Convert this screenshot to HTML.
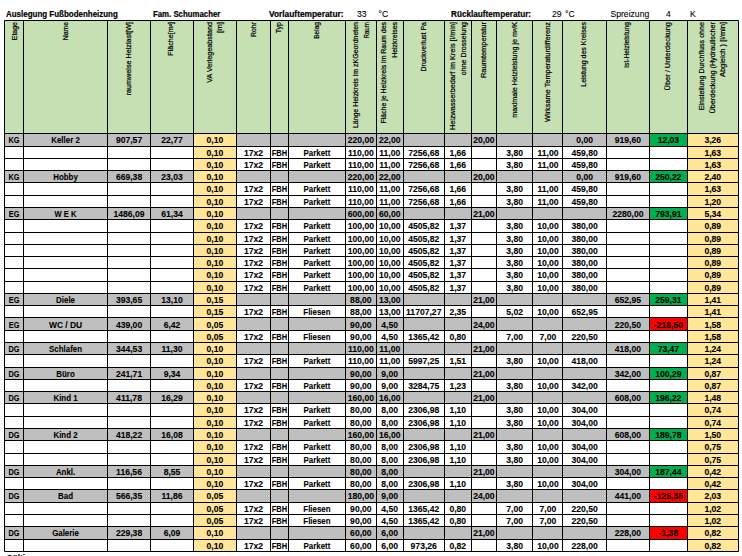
<!DOCTYPE html>
<html><head><meta charset="utf-8"><style>
html,body{margin:0;padding:0;background:#fff;width:742px;height:556px;overflow:hidden}
svg{display:block}
rect{shape-rendering:crispEdges}
.t{font-family:"Liberation Sans",sans-serif;font-weight:bold;font-size:8.6px;fill:#000;stroke:#000;stroke-width:0.1px;letter-spacing:0px}
.h{font-family:"Liberation Sans",sans-serif;font-size:6.5px;fill:#000;stroke:#000;stroke-width:0.2px}
.tb{font-family:"Liberation Sans",sans-serif;font-weight:bold;font-size:8.2px;fill:#000;stroke:#000;stroke-width:0.2px}
.ti{font-family:"Liberation Sans",sans-serif;font-size:8.6px;fill:#000;stroke:#000;stroke-width:0.1px}
</style></head><body>
<svg width="742" height="556" viewBox="0 0 742 556">
<rect x="0" y="0" width="742" height="556" fill="#fff"/>
<rect x="4.56" y="20.10" width="733.71" height="113.65" fill="#C6E0B4"/>
<rect x="4.56" y="133.75" width="733.71" height="12.28" fill="#BFBFBF"/>
<rect x="193.49" y="133.75" width="42.96" height="12.28" fill="#FFE699"/>
<rect x="687.31" y="133.75" width="50.96" height="12.28" fill="#FFE699"/>
<rect x="649.50" y="133.75" width="37.81" height="12.28" fill="#00B050"/>
<rect x="193.49" y="146.03" width="42.96" height="12.28" fill="#FFE699"/>
<rect x="687.31" y="146.03" width="50.96" height="12.28" fill="#FFE699"/>
<rect x="193.49" y="158.32" width="42.96" height="12.28" fill="#FFE699"/>
<rect x="687.31" y="158.32" width="50.96" height="12.28" fill="#FFE699"/>
<rect x="4.56" y="170.60" width="733.71" height="12.28" fill="#BFBFBF"/>
<rect x="193.49" y="170.60" width="42.96" height="12.28" fill="#FFE699"/>
<rect x="687.31" y="170.60" width="50.96" height="12.28" fill="#FFE699"/>
<rect x="649.50" y="170.60" width="37.81" height="12.28" fill="#00B050"/>
<rect x="193.49" y="182.88" width="42.96" height="12.28" fill="#FFE699"/>
<rect x="687.31" y="182.88" width="50.96" height="12.28" fill="#FFE699"/>
<rect x="193.49" y="195.16" width="42.96" height="12.28" fill="#FFE699"/>
<rect x="687.31" y="195.16" width="50.96" height="12.28" fill="#FFE699"/>
<rect x="4.56" y="207.45" width="733.71" height="12.28" fill="#BFBFBF"/>
<rect x="193.49" y="207.45" width="42.96" height="12.28" fill="#FFE699"/>
<rect x="687.31" y="207.45" width="50.96" height="12.28" fill="#FFE699"/>
<rect x="649.50" y="207.45" width="37.81" height="12.28" fill="#00B050"/>
<rect x="193.49" y="219.73" width="42.96" height="12.28" fill="#FFE699"/>
<rect x="687.31" y="219.73" width="50.96" height="12.28" fill="#FFE699"/>
<rect x="193.49" y="232.01" width="42.96" height="12.28" fill="#FFE699"/>
<rect x="687.31" y="232.01" width="50.96" height="12.28" fill="#FFE699"/>
<rect x="193.49" y="244.30" width="42.96" height="12.28" fill="#FFE699"/>
<rect x="687.31" y="244.30" width="50.96" height="12.28" fill="#FFE699"/>
<rect x="193.49" y="256.58" width="42.96" height="12.28" fill="#FFE699"/>
<rect x="687.31" y="256.58" width="50.96" height="12.28" fill="#FFE699"/>
<rect x="193.49" y="268.86" width="42.96" height="12.28" fill="#FFE699"/>
<rect x="687.31" y="268.86" width="50.96" height="12.28" fill="#FFE699"/>
<rect x="193.49" y="281.15" width="42.96" height="12.28" fill="#FFE699"/>
<rect x="687.31" y="281.15" width="50.96" height="12.28" fill="#FFE699"/>
<rect x="4.56" y="293.43" width="733.71" height="12.28" fill="#BFBFBF"/>
<rect x="193.49" y="293.43" width="42.96" height="12.28" fill="#FFE699"/>
<rect x="687.31" y="293.43" width="50.96" height="12.28" fill="#FFE699"/>
<rect x="649.50" y="293.43" width="37.81" height="12.28" fill="#00B050"/>
<rect x="193.49" y="305.71" width="42.96" height="12.28" fill="#FFE699"/>
<rect x="687.31" y="305.71" width="50.96" height="12.28" fill="#FFE699"/>
<rect x="4.56" y="318.00" width="733.71" height="12.28" fill="#BFBFBF"/>
<rect x="193.49" y="318.00" width="42.96" height="12.28" fill="#FFE699"/>
<rect x="687.31" y="318.00" width="50.96" height="12.28" fill="#FFE699"/>
<rect x="649.50" y="318.00" width="37.81" height="12.28" fill="#FF0000"/>
<rect x="193.49" y="330.28" width="42.96" height="12.28" fill="#FFE699"/>
<rect x="687.31" y="330.28" width="50.96" height="12.28" fill="#FFE699"/>
<rect x="4.56" y="342.56" width="733.71" height="12.28" fill="#BFBFBF"/>
<rect x="193.49" y="342.56" width="42.96" height="12.28" fill="#FFE699"/>
<rect x="687.31" y="342.56" width="50.96" height="12.28" fill="#FFE699"/>
<rect x="649.50" y="342.56" width="37.81" height="12.28" fill="#00B050"/>
<rect x="193.49" y="354.84" width="42.96" height="12.28" fill="#FFE699"/>
<rect x="687.31" y="354.84" width="50.96" height="12.28" fill="#FFE699"/>
<rect x="4.56" y="367.13" width="733.71" height="12.28" fill="#BFBFBF"/>
<rect x="193.49" y="367.13" width="42.96" height="12.28" fill="#FFE699"/>
<rect x="687.31" y="367.13" width="50.96" height="12.28" fill="#FFE699"/>
<rect x="649.50" y="367.13" width="37.81" height="12.28" fill="#00B050"/>
<rect x="193.49" y="379.41" width="42.96" height="12.28" fill="#FFE699"/>
<rect x="687.31" y="379.41" width="50.96" height="12.28" fill="#FFE699"/>
<rect x="4.56" y="391.69" width="733.71" height="12.28" fill="#BFBFBF"/>
<rect x="193.49" y="391.69" width="42.96" height="12.28" fill="#FFE699"/>
<rect x="687.31" y="391.69" width="50.96" height="12.28" fill="#FFE699"/>
<rect x="649.50" y="391.69" width="37.81" height="12.28" fill="#00B050"/>
<rect x="193.49" y="403.98" width="42.96" height="12.28" fill="#FFE699"/>
<rect x="687.31" y="403.98" width="50.96" height="12.28" fill="#FFE699"/>
<rect x="193.49" y="416.26" width="42.96" height="12.28" fill="#FFE699"/>
<rect x="687.31" y="416.26" width="50.96" height="12.28" fill="#FFE699"/>
<rect x="4.56" y="428.54" width="733.71" height="12.28" fill="#BFBFBF"/>
<rect x="193.49" y="428.54" width="42.96" height="12.28" fill="#FFE699"/>
<rect x="687.31" y="428.54" width="50.96" height="12.28" fill="#FFE699"/>
<rect x="649.50" y="428.54" width="37.81" height="12.28" fill="#00B050"/>
<rect x="193.49" y="440.82" width="42.96" height="12.28" fill="#FFE699"/>
<rect x="687.31" y="440.82" width="50.96" height="12.28" fill="#FFE699"/>
<rect x="193.49" y="453.11" width="42.96" height="12.28" fill="#FFE699"/>
<rect x="687.31" y="453.11" width="50.96" height="12.28" fill="#FFE699"/>
<rect x="4.56" y="465.39" width="733.71" height="12.28" fill="#BFBFBF"/>
<rect x="193.49" y="465.39" width="42.96" height="12.28" fill="#FFE699"/>
<rect x="687.31" y="465.39" width="50.96" height="12.28" fill="#FFE699"/>
<rect x="649.50" y="465.39" width="37.81" height="12.28" fill="#00B050"/>
<rect x="193.49" y="477.67" width="42.96" height="12.28" fill="#FFE699"/>
<rect x="687.31" y="477.67" width="50.96" height="12.28" fill="#FFE699"/>
<rect x="4.56" y="489.96" width="733.71" height="12.28" fill="#BFBFBF"/>
<rect x="193.49" y="489.96" width="42.96" height="12.28" fill="#FFE699"/>
<rect x="687.31" y="489.96" width="50.96" height="12.28" fill="#FFE699"/>
<rect x="649.50" y="489.96" width="37.81" height="12.28" fill="#FF0000"/>
<rect x="193.49" y="502.24" width="42.96" height="12.28" fill="#FFE699"/>
<rect x="687.31" y="502.24" width="50.96" height="12.28" fill="#FFE699"/>
<rect x="193.49" y="514.52" width="42.96" height="12.28" fill="#FFE699"/>
<rect x="687.31" y="514.52" width="50.96" height="12.28" fill="#FFE699"/>
<rect x="4.56" y="526.81" width="733.71" height="12.28" fill="#BFBFBF"/>
<rect x="193.49" y="526.81" width="42.96" height="12.28" fill="#FFE699"/>
<rect x="687.31" y="526.81" width="50.96" height="12.28" fill="#FFE699"/>
<rect x="649.50" y="526.81" width="37.81" height="12.28" fill="#FF0000"/>
<rect x="193.49" y="539.09" width="42.96" height="12.28" fill="#FFE699"/>
<rect x="687.31" y="539.09" width="50.96" height="12.28" fill="#FFE699"/>
<path d="M4.50 20.50V551.50M23.50 20.50V551.50M107.50 20.50V551.50M150.50 20.50V551.50M193.50 20.50V551.50M236.50 20.50V551.50M270.50 20.50V551.50M288.50 20.50V551.50M345.50 20.50V551.50M376.50 20.50V551.50M403.50 20.50V551.50M444.50 20.50V551.50M471.50 20.50V551.50M496.50 20.50V551.50M532.50 20.50V551.50M562.50 20.50V551.50M606.50 20.50V551.50M649.50 20.50V551.50M687.50 20.50V551.50M738.50 20.50V551.50M4.50 20.50H738.50M4.50 133.50H738.50M4.50 146.50H738.50M4.50 158.50H738.50M4.50 170.50H738.50M4.50 182.50H738.50M4.50 195.50H738.50M4.50 207.50H738.50M4.50 219.50H738.50M4.50 232.50H738.50M4.50 244.50H738.50M4.50 256.50H738.50M4.50 268.50H738.50M4.50 281.50H738.50M4.50 293.50H738.50M4.50 305.50H738.50M4.50 317.50H738.50M4.50 330.50H738.50M4.50 342.50H738.50M4.50 354.50H738.50M4.50 367.50H738.50M4.50 379.50H738.50M4.50 391.50H738.50M4.50 403.50H738.50M4.50 416.50H738.50M4.50 428.50H738.50M4.50 440.50H738.50M4.50 453.50H738.50M4.50 465.50H738.50M4.50 477.50H738.50M4.50 489.50H738.50M4.50 502.50H738.50M4.50 514.50H738.50M4.50 526.50H738.50M4.50 539.50H738.50M4.50 551.50H738.50" stroke="#000" stroke-width="1" fill="none"/>
<g class="t" text-anchor="middle">
<text transform="translate(14.03 143.25) scale(0.85 1)">KG</text><text transform="translate(65.53 143.25) scale(0.92 1)">Keller 2</text><text x="129.03" y="143.25">907,57</text><text x="172.00" y="143.25">22,77</text><text x="214.97" y="143.25">0,10</text><text x="360.87" y="143.25">220,00</text><text x="389.72" y="143.25">22,00</text><text x="483.90" y="143.25">20,00</text><text x="584.63" y="143.25">0,00</text><text x="627.93" y="143.25">919,60</text><text x="668.40" y="143.25">12,03</text><text x="712.79" y="143.25">3,26</text>
<text x="214.97" y="155.53">0,10</text><text x="253.56" y="155.53">17x2</text><text transform="translate(279.44 155.53) scale(0.87 1)">FBH</text><text transform="translate(316.95 155.53) scale(0.92 1)">Parkett</text><text x="360.87" y="155.53">110,00</text><text x="389.72" y="155.53">11,00</text><text x="423.75" y="155.53">7256,68</text><text x="457.80" y="155.53">1,66</text><text x="514.63" y="155.53">3,80</text><text x="547.93" y="155.53">11,00</text><text x="584.63" y="155.53">459,80</text><text x="712.79" y="155.53">1,63</text>
<text x="214.97" y="167.82">0,10</text><text x="253.56" y="167.82">17x2</text><text transform="translate(279.44 167.82) scale(0.87 1)">FBH</text><text transform="translate(316.95 167.82) scale(0.92 1)">Parkett</text><text x="360.87" y="167.82">110,00</text><text x="389.72" y="167.82">11,00</text><text x="423.75" y="167.82">7256,68</text><text x="457.80" y="167.82">1,66</text><text x="514.63" y="167.82">3,80</text><text x="547.93" y="167.82">11,00</text><text x="584.63" y="167.82">459,80</text><text x="712.79" y="167.82">1,63</text>
<text transform="translate(14.03 180.10) scale(0.85 1)">KG</text><text transform="translate(65.53 180.10) scale(0.92 1)">Hobby</text><text x="129.03" y="180.10">669,38</text><text x="172.00" y="180.10">23,03</text><text x="214.97" y="180.10">0,10</text><text x="360.87" y="180.10">220,00</text><text x="389.72" y="180.10">22,00</text><text x="483.90" y="180.10">20,00</text><text x="584.63" y="180.10">0,00</text><text x="627.93" y="180.10">919,60</text><text x="668.40" y="180.10">250,22</text><text x="712.79" y="180.10">2,40</text>
<text x="214.97" y="192.38">0,10</text><text x="253.56" y="192.38">17x2</text><text transform="translate(279.44 192.38) scale(0.87 1)">FBH</text><text transform="translate(316.95 192.38) scale(0.92 1)">Parkett</text><text x="360.87" y="192.38">110,00</text><text x="389.72" y="192.38">11,00</text><text x="423.75" y="192.38">7256,68</text><text x="457.80" y="192.38">1,66</text><text x="514.63" y="192.38">3,80</text><text x="547.93" y="192.38">11,00</text><text x="584.63" y="192.38">459,80</text><text x="712.79" y="192.38">1,63</text>
<text x="214.97" y="204.66">0,10</text><text x="253.56" y="204.66">17x2</text><text transform="translate(279.44 204.66) scale(0.87 1)">FBH</text><text transform="translate(316.95 204.66) scale(0.92 1)">Parkett</text><text x="360.87" y="204.66">110,00</text><text x="389.72" y="204.66">11,00</text><text x="423.75" y="204.66">7256,68</text><text x="457.80" y="204.66">1,66</text><text x="514.63" y="204.66">3,80</text><text x="547.93" y="204.66">11,00</text><text x="584.63" y="204.66">459,80</text><text x="712.79" y="204.66">1,20</text>
<text transform="translate(14.03 216.95) scale(0.85 1)">EG</text><text transform="translate(65.53 216.95) scale(0.88 1)">W E K</text><text x="129.03" y="216.95">1486,09</text><text x="172.00" y="216.95">61,34</text><text x="214.97" y="216.95">0,10</text><text x="360.87" y="216.95">600,00</text><text x="389.72" y="216.95">60,00</text><text x="483.90" y="216.95">21,00</text><text x="627.93" y="216.95">2280,00</text><text x="668.40" y="216.95">793,91</text><text x="712.79" y="216.95">5,34</text>
<text x="214.97" y="229.23">0,10</text><text x="253.56" y="229.23">17x2</text><text transform="translate(279.44 229.23) scale(0.87 1)">FBH</text><text transform="translate(316.95 229.23) scale(0.92 1)">Parkett</text><text x="360.87" y="229.23">100,00</text><text x="389.72" y="229.23">10,00</text><text x="423.75" y="229.23">4505,82</text><text x="457.80" y="229.23">1,37</text><text x="514.63" y="229.23">3,80</text><text x="547.93" y="229.23">10,00</text><text x="584.63" y="229.23">380,00</text><text x="712.79" y="229.23">0,89</text>
<text x="214.97" y="241.51">0,10</text><text x="253.56" y="241.51">17x2</text><text transform="translate(279.44 241.51) scale(0.87 1)">FBH</text><text transform="translate(316.95 241.51) scale(0.92 1)">Parkett</text><text x="360.87" y="241.51">100,00</text><text x="389.72" y="241.51">10,00</text><text x="423.75" y="241.51">4505,82</text><text x="457.80" y="241.51">1,37</text><text x="514.63" y="241.51">3,80</text><text x="547.93" y="241.51">10,00</text><text x="584.63" y="241.51">380,00</text><text x="712.79" y="241.51">0,89</text>
<text x="214.97" y="253.80">0,10</text><text x="253.56" y="253.80">17x2</text><text transform="translate(279.44 253.80) scale(0.87 1)">FBH</text><text transform="translate(316.95 253.80) scale(0.92 1)">Parkett</text><text x="360.87" y="253.80">100,00</text><text x="389.72" y="253.80">10,00</text><text x="423.75" y="253.80">4505,82</text><text x="457.80" y="253.80">1,37</text><text x="514.63" y="253.80">3,80</text><text x="547.93" y="253.80">10,00</text><text x="584.63" y="253.80">380,00</text><text x="712.79" y="253.80">0,89</text>
<text x="214.97" y="266.08">0,10</text><text x="253.56" y="266.08">17x2</text><text transform="translate(279.44 266.08) scale(0.87 1)">FBH</text><text transform="translate(316.95 266.08) scale(0.92 1)">Parkett</text><text x="360.87" y="266.08">100,00</text><text x="389.72" y="266.08">10,00</text><text x="423.75" y="266.08">4505,82</text><text x="457.80" y="266.08">1,37</text><text x="514.63" y="266.08">3,80</text><text x="547.93" y="266.08">10,00</text><text x="584.63" y="266.08">380,00</text><text x="712.79" y="266.08">0,89</text>
<text x="214.97" y="278.36">0,10</text><text x="253.56" y="278.36">17x2</text><text transform="translate(279.44 278.36) scale(0.87 1)">FBH</text><text transform="translate(316.95 278.36) scale(0.92 1)">Parkett</text><text x="360.87" y="278.36">100,00</text><text x="389.72" y="278.36">10,00</text><text x="423.75" y="278.36">4505,82</text><text x="457.80" y="278.36">1,37</text><text x="514.63" y="278.36">3,80</text><text x="547.93" y="278.36">10,00</text><text x="584.63" y="278.36">380,00</text><text x="712.79" y="278.36">0,89</text>
<text x="214.97" y="290.65">0,10</text><text x="253.56" y="290.65">17x2</text><text transform="translate(279.44 290.65) scale(0.87 1)">FBH</text><text transform="translate(316.95 290.65) scale(0.92 1)">Parkett</text><text x="360.87" y="290.65">100,00</text><text x="389.72" y="290.65">10,00</text><text x="423.75" y="290.65">4505,82</text><text x="457.80" y="290.65">1,37</text><text x="514.63" y="290.65">3,80</text><text x="547.93" y="290.65">10,00</text><text x="584.63" y="290.65">380,00</text><text x="712.79" y="290.65">0,89</text>
<text transform="translate(14.03 302.93) scale(0.85 1)">EG</text><text transform="translate(65.53 302.93) scale(0.92 1)">Diele</text><text x="129.03" y="302.93">393,65</text><text x="172.00" y="302.93">13,10</text><text x="214.97" y="302.93">0,15</text><text x="360.87" y="302.93">88,00</text><text x="389.72" y="302.93">13,00</text><text x="483.90" y="302.93">21,00</text><text x="627.93" y="302.93">652,95</text><text x="668.40" y="302.93">259,31</text><text x="712.79" y="302.93">1,41</text>
<text x="214.97" y="315.21">0,15</text><text x="253.56" y="315.21">17x2</text><text transform="translate(279.44 315.21) scale(0.87 1)">FBH</text><text transform="translate(316.95 315.21) scale(0.92 1)">Fliesen</text><text x="360.87" y="315.21">88,00</text><text x="389.72" y="315.21">13,00</text><text x="423.75" y="315.21">11707,27</text><text x="457.80" y="315.21">2,35</text><text x="514.63" y="315.21">5,02</text><text x="547.93" y="315.21">10,00</text><text x="584.63" y="315.21">652,95</text><text x="712.79" y="315.21">1,41</text>
<text transform="translate(14.03 327.50) scale(0.85 1)">EG</text><text transform="translate(65.53 327.50) scale(0.98 1)">WC / DU</text><text x="129.03" y="327.50">439,00</text><text x="172.00" y="327.50">6,42</text><text x="214.97" y="327.50">0,05</text><text x="360.87" y="327.50">90,00</text><text x="389.72" y="327.50">4,50</text><text x="483.90" y="327.50">24,00</text><text x="627.93" y="327.50">220,50</text><text x="668.40" y="327.50">-218,50</text><text x="712.79" y="327.50">1,58</text>
<text x="214.97" y="339.78">0,05</text><text x="253.56" y="339.78">17x2</text><text transform="translate(279.44 339.78) scale(0.87 1)">FBH</text><text transform="translate(316.95 339.78) scale(0.92 1)">Fliesen</text><text x="360.87" y="339.78">90,00</text><text x="389.72" y="339.78">4,50</text><text x="423.75" y="339.78">1365,42</text><text x="457.80" y="339.78">0,80</text><text x="514.63" y="339.78">7,00</text><text x="547.93" y="339.78">7,00</text><text x="584.63" y="339.78">220,50</text><text x="712.79" y="339.78">1,58</text>
<text transform="translate(14.03 352.06) scale(0.85 1)">DG</text><text transform="translate(65.53 352.06) scale(0.92 1)">Schlafen</text><text x="129.03" y="352.06">344,53</text><text x="172.00" y="352.06">11,30</text><text x="214.97" y="352.06">0,10</text><text x="360.87" y="352.06">110,00</text><text x="389.72" y="352.06">11,00</text><text x="483.90" y="352.06">21,00</text><text x="627.93" y="352.06">418,00</text><text x="668.40" y="352.06">73,47</text><text x="712.79" y="352.06">1,24</text>
<text x="214.97" y="364.34">0,10</text><text x="253.56" y="364.34">17x2</text><text transform="translate(279.44 364.34) scale(0.87 1)">FBH</text><text transform="translate(316.95 364.34) scale(0.92 1)">Parkett</text><text x="360.87" y="364.34">110,00</text><text x="389.72" y="364.34">11,00</text><text x="423.75" y="364.34">5997,25</text><text x="457.80" y="364.34">1,51</text><text x="514.63" y="364.34">3,80</text><text x="547.93" y="364.34">10,00</text><text x="584.63" y="364.34">418,00</text><text x="712.79" y="364.34">1,24</text>
<text transform="translate(14.03 376.63) scale(0.85 1)">DG</text><text transform="translate(65.53 376.63) scale(0.92 1)">Büro</text><text x="129.03" y="376.63">241,71</text><text x="172.00" y="376.63">9,34</text><text x="214.97" y="376.63">0,10</text><text x="360.87" y="376.63">90,00</text><text x="389.72" y="376.63">9,00</text><text x="483.90" y="376.63">21,00</text><text x="627.93" y="376.63">342,00</text><text x="668.40" y="376.63">100,29</text><text x="712.79" y="376.63">0,87</text>
<text x="214.97" y="388.91">0,10</text><text x="253.56" y="388.91">17x2</text><text transform="translate(279.44 388.91) scale(0.87 1)">FBH</text><text transform="translate(316.95 388.91) scale(0.92 1)">Parkett</text><text x="360.87" y="388.91">90,00</text><text x="389.72" y="388.91">9,00</text><text x="423.75" y="388.91">3284,75</text><text x="457.80" y="388.91">1,23</text><text x="514.63" y="388.91">3,80</text><text x="547.93" y="388.91">10,00</text><text x="584.63" y="388.91">342,00</text><text x="712.79" y="388.91">0,87</text>
<text transform="translate(14.03 401.19) scale(0.85 1)">DG</text><text transform="translate(65.53 401.19) scale(0.92 1)">Kind 1</text><text x="129.03" y="401.19">411,78</text><text x="172.00" y="401.19">16,29</text><text x="214.97" y="401.19">0,10</text><text x="360.87" y="401.19">160,00</text><text x="389.72" y="401.19">16,00</text><text x="483.90" y="401.19">21,00</text><text x="627.93" y="401.19">608,00</text><text x="668.40" y="401.19">196,22</text><text x="712.79" y="401.19">1,48</text>
<text x="214.97" y="413.48">0,10</text><text x="253.56" y="413.48">17x2</text><text transform="translate(279.44 413.48) scale(0.87 1)">FBH</text><text transform="translate(316.95 413.48) scale(0.92 1)">Parkett</text><text x="360.87" y="413.48">80,00</text><text x="389.72" y="413.48">8,00</text><text x="423.75" y="413.48">2306,98</text><text x="457.80" y="413.48">1,10</text><text x="514.63" y="413.48">3,80</text><text x="547.93" y="413.48">10,00</text><text x="584.63" y="413.48">304,00</text><text x="712.79" y="413.48">0,74</text>
<text x="214.97" y="425.76">0,10</text><text x="253.56" y="425.76">17x2</text><text transform="translate(279.44 425.76) scale(0.87 1)">FBH</text><text transform="translate(316.95 425.76) scale(0.92 1)">Parkett</text><text x="360.87" y="425.76">80,00</text><text x="389.72" y="425.76">8,00</text><text x="423.75" y="425.76">2306,98</text><text x="457.80" y="425.76">1,10</text><text x="514.63" y="425.76">3,80</text><text x="547.93" y="425.76">10,00</text><text x="584.63" y="425.76">304,00</text><text x="712.79" y="425.76">0,74</text>
<text transform="translate(14.03 438.04) scale(0.85 1)">DG</text><text transform="translate(65.53 438.04) scale(0.92 1)">Kind 2</text><text x="129.03" y="438.04">418,22</text><text x="172.00" y="438.04">16,08</text><text x="214.97" y="438.04">0,10</text><text x="360.87" y="438.04">160,00</text><text x="389.72" y="438.04">16,00</text><text x="483.90" y="438.04">21,00</text><text x="627.93" y="438.04">608,00</text><text x="668.40" y="438.04">189,78</text><text x="712.79" y="438.04">1,50</text>
<text x="214.97" y="450.32">0,10</text><text x="253.56" y="450.32">17x2</text><text transform="translate(279.44 450.32) scale(0.87 1)">FBH</text><text transform="translate(316.95 450.32) scale(0.92 1)">Parkett</text><text x="360.87" y="450.32">80,00</text><text x="389.72" y="450.32">8,00</text><text x="423.75" y="450.32">2306,98</text><text x="457.80" y="450.32">1,10</text><text x="514.63" y="450.32">3,80</text><text x="547.93" y="450.32">10,00</text><text x="584.63" y="450.32">304,00</text><text x="712.79" y="450.32">0,75</text>
<text x="214.97" y="462.61">0,10</text><text x="253.56" y="462.61">17x2</text><text transform="translate(279.44 462.61) scale(0.87 1)">FBH</text><text transform="translate(316.95 462.61) scale(0.92 1)">Parkett</text><text x="360.87" y="462.61">80,00</text><text x="389.72" y="462.61">8,00</text><text x="423.75" y="462.61">2306,98</text><text x="457.80" y="462.61">1,10</text><text x="514.63" y="462.61">3,80</text><text x="547.93" y="462.61">10,00</text><text x="584.63" y="462.61">304,00</text><text x="712.79" y="462.61">0,75</text>
<text transform="translate(14.03 474.89) scale(0.85 1)">DG</text><text transform="translate(65.53 474.89) scale(0.92 1)">Ankl.</text><text x="129.03" y="474.89">116,56</text><text x="172.00" y="474.89">8,55</text><text x="214.97" y="474.89">0,10</text><text x="360.87" y="474.89">80,00</text><text x="389.72" y="474.89">8,00</text><text x="483.90" y="474.89">21,00</text><text x="627.93" y="474.89">304,00</text><text x="668.40" y="474.89">187,44</text><text x="712.79" y="474.89">0,42</text>
<text x="214.97" y="487.17">0,10</text><text x="253.56" y="487.17">17x2</text><text transform="translate(279.44 487.17) scale(0.87 1)">FBH</text><text transform="translate(316.95 487.17) scale(0.92 1)">Parkett</text><text x="360.87" y="487.17">80,00</text><text x="389.72" y="487.17">8,00</text><text x="423.75" y="487.17">2306,98</text><text x="457.80" y="487.17">1,10</text><text x="514.63" y="487.17">3,80</text><text x="547.93" y="487.17">10,00</text><text x="584.63" y="487.17">304,00</text><text x="712.79" y="487.17">0,42</text>
<text transform="translate(14.03 499.46) scale(0.85 1)">DG</text><text transform="translate(65.53 499.46) scale(0.92 1)">Bad</text><text x="129.03" y="499.46">566,35</text><text x="172.00" y="499.46">11,86</text><text x="214.97" y="499.46">0,05</text><text x="360.87" y="499.46">180,00</text><text x="389.72" y="499.46">9,00</text><text x="483.90" y="499.46">24,00</text><text x="627.93" y="499.46">441,00</text><text x="668.40" y="499.46">-125,35</text><text x="712.79" y="499.46">2,03</text>
<text x="214.97" y="511.74">0,05</text><text x="253.56" y="511.74">17x2</text><text transform="translate(279.44 511.74) scale(0.87 1)">FBH</text><text transform="translate(316.95 511.74) scale(0.92 1)">Fliesen</text><text x="360.87" y="511.74">90,00</text><text x="389.72" y="511.74">4,50</text><text x="423.75" y="511.74">1365,42</text><text x="457.80" y="511.74">0,80</text><text x="514.63" y="511.74">7,00</text><text x="547.93" y="511.74">7,00</text><text x="584.63" y="511.74">220,50</text><text x="712.79" y="511.74">1,02</text>
<text x="214.97" y="524.02">0,05</text><text x="253.56" y="524.02">17x2</text><text transform="translate(279.44 524.02) scale(0.87 1)">FBH</text><text transform="translate(316.95 524.02) scale(0.92 1)">Fliesen</text><text x="360.87" y="524.02">90,00</text><text x="389.72" y="524.02">4,50</text><text x="423.75" y="524.02">1365,42</text><text x="457.80" y="524.02">0,80</text><text x="514.63" y="524.02">7,00</text><text x="547.93" y="524.02">7,00</text><text x="584.63" y="524.02">220,50</text><text x="712.79" y="524.02">1,02</text>
<text transform="translate(14.03 536.31) scale(0.85 1)">DG</text><text transform="translate(65.53 536.31) scale(0.92 1)">Galerie</text><text x="129.03" y="536.31">229,38</text><text x="172.00" y="536.31">6,09</text><text x="214.97" y="536.31">0,10</text><text x="360.87" y="536.31">60,00</text><text x="389.72" y="536.31">6,00</text><text x="483.90" y="536.31">21,00</text><text x="627.93" y="536.31">228,00</text><text x="668.40" y="536.31">-1,38</text><text x="712.79" y="536.31">0,82</text>
<text x="214.97" y="548.59">0,10</text><text x="253.56" y="548.59">17x2</text><text transform="translate(279.44 548.59) scale(0.87 1)">FBH</text><text transform="translate(316.95 548.59) scale(0.92 1)">Parkett</text><text x="360.87" y="548.59">60,00</text><text x="389.72" y="548.59">6,00</text><text x="423.75" y="548.59">973,26</text><text x="457.80" y="548.59">0,82</text><text x="514.63" y="548.59">3,80</text><text x="547.93" y="548.59">10,00</text><text x="584.63" y="548.59">228,00</text><text x="712.79" y="548.59">0,82</text>
</g>
<g class="h" text-anchor="end">
<text transform="translate(16.63 22.00) rotate(-90) scale(1.077 1)">Etage</text>
<text transform="translate(67.94 22.00) rotate(-90) scale(1.054 1)">Name</text>
<text transform="translate(131.23 22.00) rotate(-90) scale(1.110 1)">raumweise Heizlast[W]</text>
<text transform="translate(173.09 22.00) rotate(-90) scale(1.097 1)">Fläche[m²]</text>
<text transform="translate(212.02 22.00) rotate(-90) scale(1.110 1)">VA Verlegeabstand</text><text transform="translate(221.52 22.00) rotate(-90) scale(1.221 1)">[m]</text>
<text transform="translate(256.26 22.00) rotate(-90) scale(1.063 1)">Rohr</text>
<text transform="translate(281.24 22.00) rotate(-90) scale(1.077 1)">Typ</text>
<text transform="translate(319.35 22.00) rotate(-90) scale(1.011 1)">Belag</text>
<text transform="translate(358.42 22.00) rotate(-90) scale(1.073 1)">Länge Heizkreis im zKGeordneten</text><text transform="translate(368.72 22.00) rotate(-90) scale(0.958 1)">Raum</text>
<text transform="translate(385.77 22.00) rotate(-90) scale(1.071 1)">Fläche je Heizkreis im Raum des</text><text transform="translate(396.97 22.00) rotate(-90) scale(1.068 1)">Heizkreises</text>
<text transform="translate(426.45 22.00) rotate(-90) scale(1.081 1)">Druckverlust Pa</text>
<text transform="translate(454.75 22.00) rotate(-90) scale(1.122 1)">Heizwasserbedarf im Kreis [l/min]</text><text transform="translate(465.55 22.00) rotate(-90) scale(1.085 1)">ohne Drosselung</text>
<text transform="translate(485.60 22.00) rotate(-90) scale(1.149 1)">Raumtemperatur</text>
<text transform="translate(516.93 22.00) rotate(-90) scale(1.098 1)">maximale Heizleistung je m²/K</text>
<text transform="translate(549.63 22.00) rotate(-90) scale(1.136 1)">Wirksame Temperaturdifferenz</text>
<text transform="translate(586.43 22.00) rotate(-90) scale(1.075 1)">Leistung des Kreises</text>
<text transform="translate(628.93 22.00) rotate(-90) scale(1.032 1)">Ist-Heizleistung</text>
<text transform="translate(669.61 22.00) rotate(-90) scale(1.143 1)">Über / Unterdeckung</text>
<text transform="translate(704.49 22.00) rotate(-90) scale(1.098 1)">Einstellung Durchfluss ohne</text><text transform="translate(714.79 22.00) rotate(-90) scale(1.111 1)">Überdeckung (Hydraulischer</text><text transform="translate(725.09 22.00) rotate(-90) scale(1.147 1)">Abgleich ) [l/min]</text>
</g>
<g class="tb">
<text transform="translate(6 17) scale(0.971 1)">Auslegung Fußbodenheizung</text>
<text transform="translate(153 17) scale(0.955 1)">Fam. Schumacher</text>
<text transform="translate(269 17) scale(1.02 1)">Vorlauftemperatur:</text>
<text x="451" y="17">Rücklauftemperatur:</text>
</g>
<g class="ti">
<text x="357" y="17">33</text><text x="378.5" y="17">°C</text>
<text x="552" y="17">29</text><text x="565" y="17">°C</text>
<text x="610.5" y="17">Spreizung</text><text x="666" y="17">4</text><text x="690" y="17">K</text>
</g>
<text class="tb" x="6.5" y="560.5">Gültig</text>
</svg>
</body></html>
